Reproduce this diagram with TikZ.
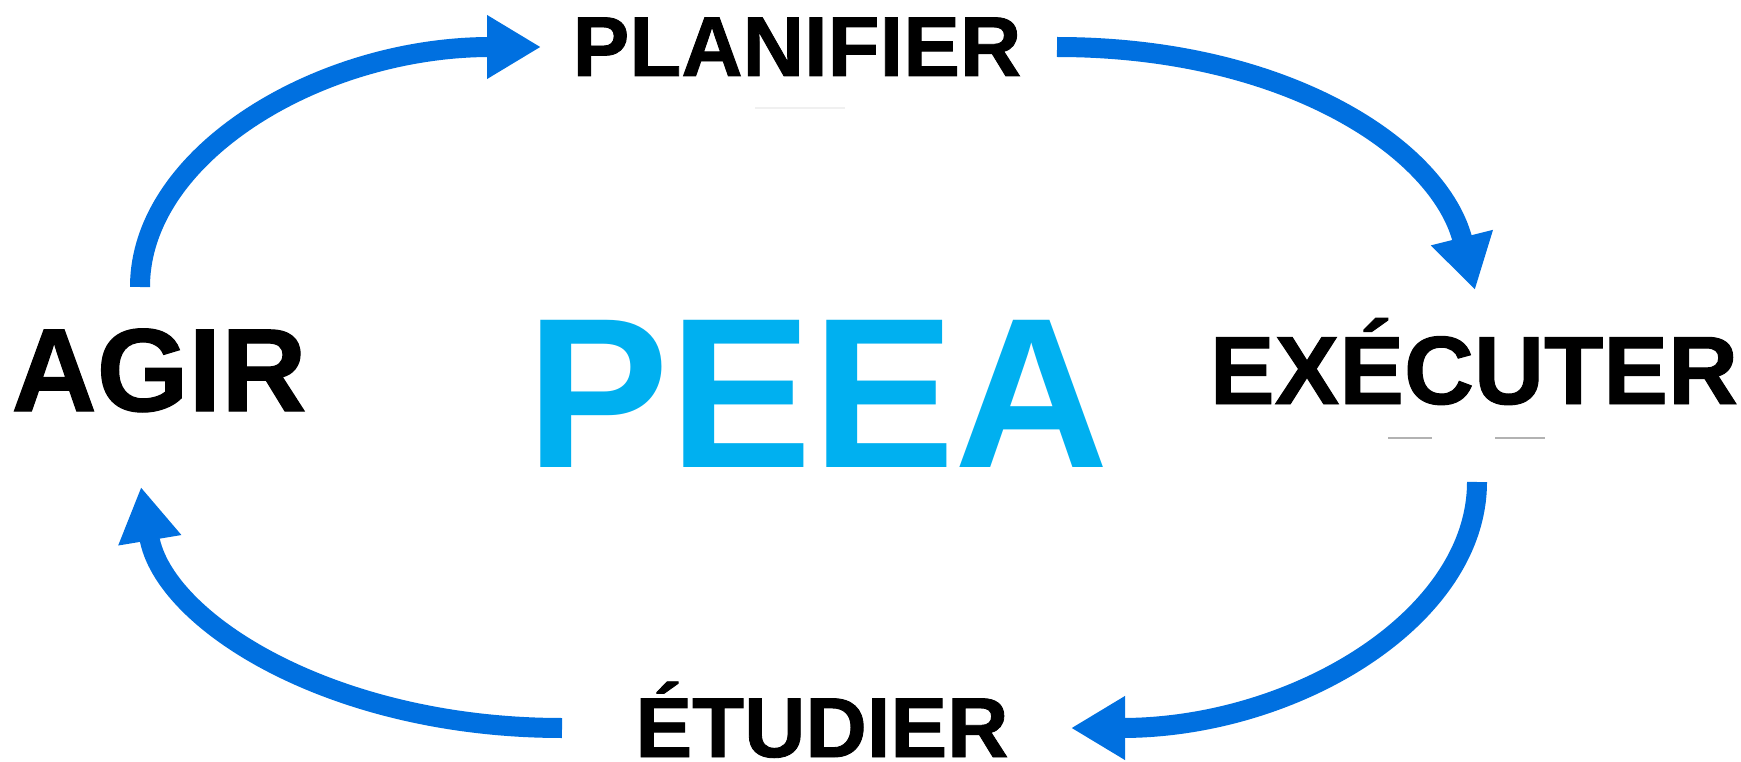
\documentclass[tikz,border=0pt]{standalone}
\usepackage{fontspec}
\setmainfont{Liberation Sans}
\newfontfamily\heavyfont{Liberation Sans Bold}[FakeBold=1]
\usetikzlibrary{arrows.meta}
\definecolor{arrowblue}{HTML}{0070E0}
\definecolor{peeablue}{HTML}{00B0F0}
\begin{document}
\begin{tikzpicture}[x=1pt,y=-1pt,
  lbl/.style={font=\heavyfont\fontsize{#1}{#1}\selectfont, inner sep=0pt, anchor=base, text depth=0pt},
  title/.style={font=\bfseries\fontsize{#1}{#1}\selectfont, inner sep=0pt, anchor=base, text depth=0pt},
  cyc/.style={line width=20pt, draw=arrowblue, -{Triangle[length=54pt,width=60pt]}},
  faint/.style={line width=1.5pt, draw=#1}]
\fill[white] (0,0) rectangle (1741,762);
\useasboundingbox (0,0) rectangle (1741,762);
% labels
\node[lbl=85] (plan) at (797,76) {PLANIFIER};
\node[lbl=118] (agir) at (159,411) {AGIR};
\node[title=214, text=peeablue] (peea) at (818,467) {PEEA};
\node[lbl=97] (exec) at (1474,404) {EXÉCUTER};
\node[lbl=85] (etud) at (822,757) {ÉTUDIER};
% arrow end points
\coordinate (a1s) at (140,287);  \coordinate (a1e) at (541,47);
\coordinate (a2s) at (1057,47);  \coordinate (a2e) at (1475,290);
\coordinate (a3s) at (1477,482); \coordinate (a3e) at (1071,728);
\coordinate (a4s) at (562,728);  \coordinate (a4e) at (141,487);
\draw[cyc] (a1s) .. controls (140,154) and (320,47) .. (a1e);
\draw[cyc] (a2s) .. controls (1288,47) and (1440,150) .. (a2e);
\draw[cyc] (a3s) .. controls (1477,618) and (1295,728) .. (a3e);
\draw[cyc] (a4s) .. controls (330,728) and (163,620) .. (a4e);
% faint marks
\draw[faint=gray!60] (1388,438) -- (1432,438);
\draw[faint=gray!60] (1495,438) -- (1545,438);
\draw[faint=gray!12] (755,108) -- (845,108);
\end{tikzpicture}
\end{document}
